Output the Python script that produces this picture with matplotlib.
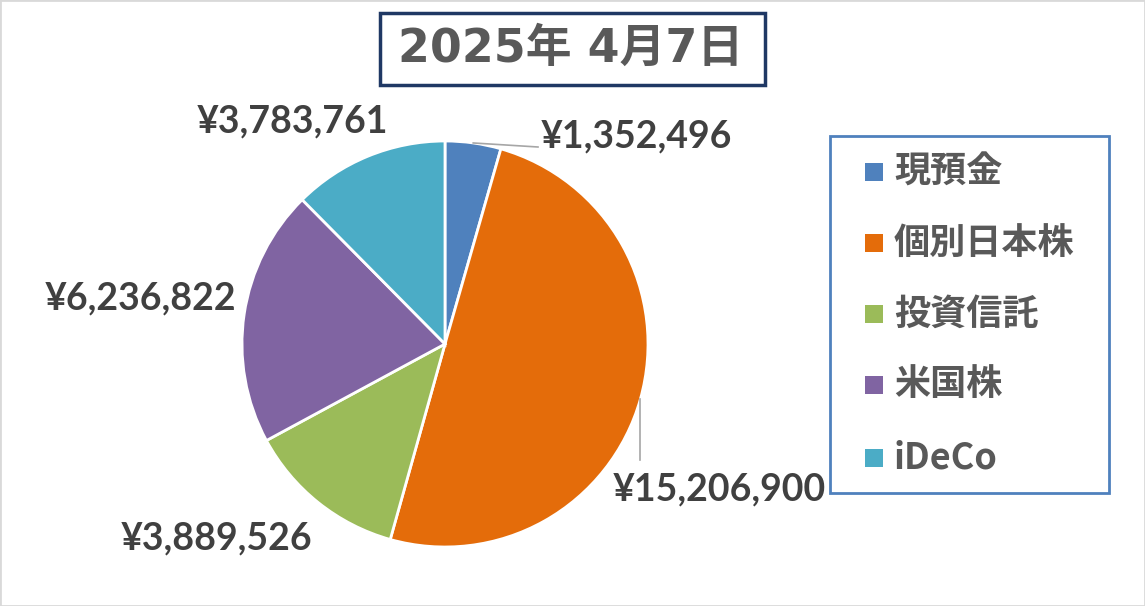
import matplotlib
matplotlib.use("Agg")
import matplotlib.pyplot as plt
from matplotlib.patches import Rectangle
import numpy as np

categories = ["現預金", "個別日本株", "投資信託", "米国株", "iDeCo"]
values = [1352496, 15206900, 3889526, 6236822, 3783761]
colors = ["#4F81BD", "#E46C0A", "#9BBB59", "#8064A2", "#4BACC6"]
title = "2025年 4月7日"

W, H = 1145, 606
fig = plt.figure(figsize=(W / 100, H / 100), dpi=100)
fig.patch.set_facecolor("white")

cx, cy, R = 445, 344, 203
ax = fig.add_axes([(cx - R) / W, (H - cy - R) / H, 2 * R / W, 2 * R / H])
wedges, _ = ax.pie(values, colors=colors, startangle=90, counterclock=False,
                   radius=1.0, wedgeprops=dict(edgecolor="white", linewidth=2))
ax.set_xlim(-1, 1)
ax.set_ylim(-1, 1)
ax.set_aspect("equal")
ax.axis("off")

def fx(px):
    return px / W

def fy(py):
    return 1 - py / H

label_font = dict(family=["Lato", "DejaVu Sans"], fontweight="bold", fontsize=27, color="#404040")
label_pos = [(541, 136, "left"), (613, 489, "left"), (312, 538, "right"), (236, 298, "right"), (388, 121, "right")]
for v, (px, py, ha) in zip(values, label_pos):
    fig.text(fx(px), fy(py), f"¥{v:,}", ha=ha, va="center", **label_font)

# leader lines
lc = "#A6A6A6"
for i, w in enumerate(wedges[:2]):
    mid = np.deg2rad((w.theta1 + w.theta2) / 2)
    ex, ey = np.cos(mid), np.sin(mid)
    if i == 0:
        tx, ty = (538 - cx) / R, (cy - 147) / R
        ax.plot([ex, tx], [ey, ty], color=lc, lw=1.2, clip_on=False)
    else:
        ty = (cy - 460) / R
        ax.plot([ex, ex], [ey, ty], color=lc, lw=1.2, clip_on=False)

# title
fig.text(fx(571), fy(49), title, ha="center", va="center", fontsize=33, fontweight="bold",
         family=["DejaVu Sans", "Noto Sans CJK JP"], color="#595959")
fig.patches.append(Rectangle((fx(380), fy(85)), (765 - 380) / W, (85 - 13) / H,
                             transform=fig.transFigure, fill=False,
                             edgecolor="#1F3864", linewidth=2.5))

# legend
fig.patches.append(Rectangle((fx(830), fy(493)), (1109 - 830) / W, (493 - 136) / H,
                             transform=fig.transFigure, fill=False,
                             edgecolor="#4F81BD", linewidth=2))
ys = [172, 243, 314, 385, 458]
for c, name, py in zip(colors, categories, ys):
    fig.patches.append(Rectangle((fx(865), fy(py + 9)), 18 / W, 18 / H,
                                 transform=fig.transFigure, facecolor=c, edgecolor="none"))
    fig.text(fx(894), fy(py), name, ha="left", va="center", fontsize=26, fontweight="bold",
             family=["Noto Sans CJK JP", "DejaVu Sans"], color="#595959")

# outer border
fig.patches.append(Rectangle((0, 0), 1, 1, transform=fig.transFigure, fill=False,
                             edgecolor="#D9D9D9", linewidth=2))

fig.savefig("out.png", dpi=100)
